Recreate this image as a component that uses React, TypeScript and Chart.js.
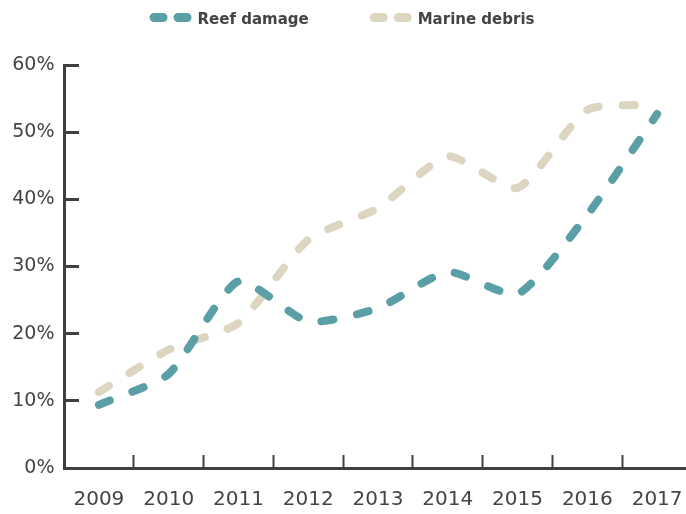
import React, { useEffect, useRef } from "react";
import { Chart, registerables } from "chart.js";

Chart.register(...registerables);

const years = ["2009", "2010", "2011", "2012", "2013", "2014", "2015", "2016", "2017"];
const reefDamage = [9.4, 14.0, 27.8, 21.8, 23.8, 29.2, 25.9, 37.7, 52.7];
const marineDebris = [11.3, 17.6, 21.6, 34.0, 38.7, 46.4, 41.7, 53.3, 54.1];
const yTicks = [0, 10, 20, 30, 40, 50, 60];

const TEXT = "#444444";
const AXIS = "#3f3f3f";
const TEAL = "rgb(90,159,166)";
const SAND = "rgb(220,214,193)";

const legendPlugin = {
  id: "dashLegend",
  afterDraw(chart: any) {
    const { ctx } = chart;
    const datasets = chart.data.datasets;
    ctx.save();
    ctx.font = 'bold 15px "DejaVu Sans"';
    const widths = datasets.map((d: any) => ctx.measureText(d.label).width);
    const boxW = 48;
    const itemGap = 61;
    const total =
      widths.reduce((s: number, w: number) => s + boxW + w, 0) + itemGap * (datasets.length - 1);
    let x = 342 - total / 2;
    const yPill = 17.5;
    const yText = 24;
    datasets.forEach((d: any, i: number) => {
      ctx.strokeStyle = d.borderColor;
      ctx.lineWidth = 9;
      ctx.lineCap = "round";
      ctx.setLineDash([]);
      ctx.beginPath();
      ctx.moveTo(x + 4.5, yPill);
      ctx.lineTo(x + 13.5, yPill);
      ctx.moveTo(x + 28.5, yPill);
      ctx.lineTo(x + 37.5, yPill);
      ctx.stroke();
      ctx.fillStyle = TEXT;
      ctx.textAlign = "left";
      ctx.textBaseline = "alphabetic";
      ctx.fillText(d.label, x + boxW, yText);
      x += boxW + widths[i] + itemGap;
    });
    ctx.restore();
  },
};

export default function App() {
  const canvasRef = useRef<HTMLCanvasElement | null>(null);

  useEffect(() => {
    if (!canvasRef.current) return;
    const chart = new Chart(canvasRef.current, {
      type: "line",
      data: {
        labels: years,
        datasets: [
          {
            label: "Reef damage",
            data: reefDamage,
            borderColor: TEAL,
            backgroundColor: TEAL,
            borderWidth: 8,
            borderDash: [12, 24],
            borderCapStyle: "round",
            borderJoinStyle: "round",
            pointRadius: 0,
            tension: 0.2,
            fill: false,
          },
          {
            label: "Marine debris",
            data: marineDebris,
            borderColor: SAND,
            backgroundColor: SAND,
            borderWidth: 8,
            borderDash: [12, 24],
            borderCapStyle: "round",
            borderJoinStyle: "round",
            pointRadius: 0,
            tension: 0.2,
            fill: false,
          },
        ],
      },
      options: {
        responsive: false,
        animation: false,
        layout: { padding: { top: 65, left: 0, right: 0, bottom: 0 } },
        plugins: {
          legend: { display: false },
          tooltip: { enabled: false },
        },
        scales: {
          x: {
            offset: true,
            grid: {
              offset: true,
              drawOnChartArea: false,
              drawTicks: true,
              tickLength: -13,
              tickWidth: 2,
              tickColor: AXIS,
              color: AXIS,
            },
            border: { display: true, color: AXIS, width: 3 },
            ticks: {
              color: TEXT,
              padding: 33,
              maxRotation: 0,
              autoSkip: false,
              font: { family: '"DejaVu Sans"', size: 20 },
            },
            afterFit: (scale: any) => {
              scale.height = 46;
              scale.paddingLeft = 0;
              scale.paddingRight = 0;
            },
          },
          y: {
            min: 0,
            max: 60,
            afterBuildTicks: (scale: any) => {
              scale.ticks = yTicks.map((v) => ({ value: v }));
            },
            grid: {
              drawOnChartArea: false,
              drawTicks: true,
              tickLength: -15,
              tickWidth: 3,
              tickColor: AXIS,
              color: AXIS,
            },
            border: { display: true, color: AXIS, width: 3 },
            ticks: {
              color: TEXT,
              padding: 24.5,
              callback: (v: any) => v + "%",
              font: { family: '"DejaVu Sans"', size: 19 },
            },
            afterFit: (scale: any) => {
              scale.width = 64;
            },
          },
        },
      },
      plugins: [legendPlugin],
    });
    return () => chart.destroy();
  }, []);

  return (
    <div
      style={{
        position: "fixed",
        left: 0,
        top: 0,
        width: 686,
        height: 514,
        overflow: "hidden",
        background: "#ffffff",
      }}
    >
      <canvas ref={canvasRef} width={692} height={514} style={{ display: "block" }} />
    </div>
  );
}
